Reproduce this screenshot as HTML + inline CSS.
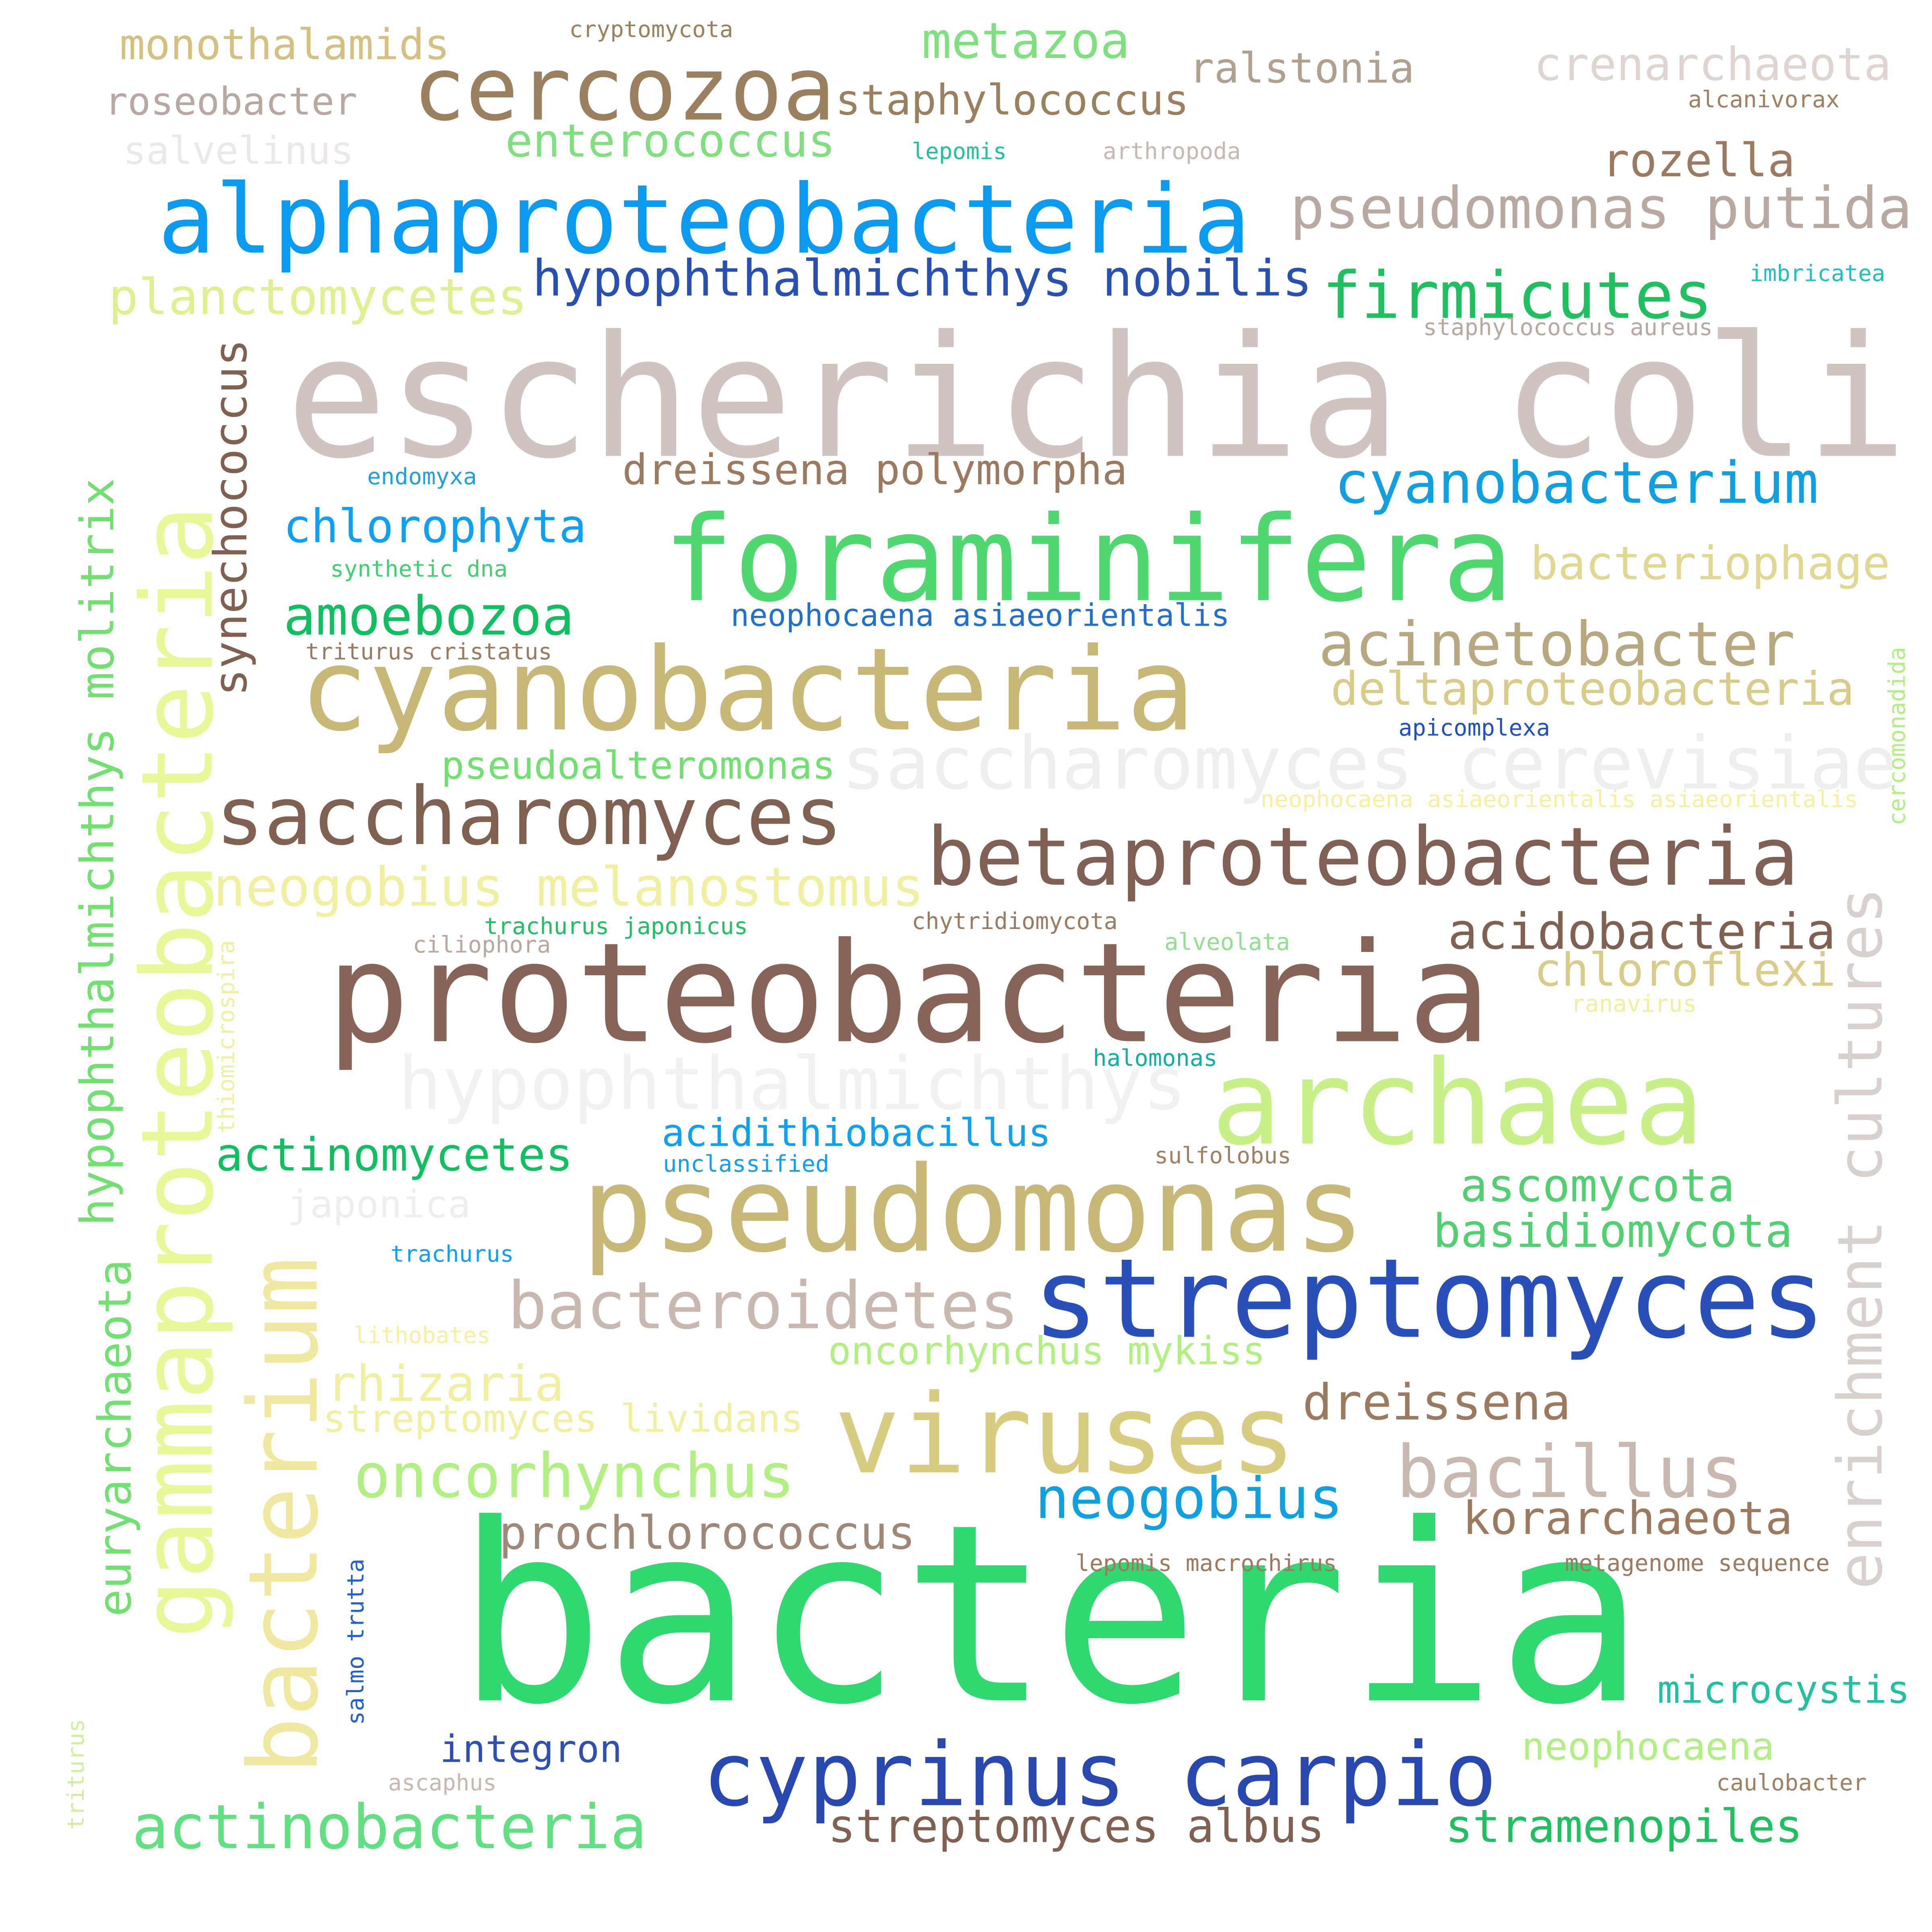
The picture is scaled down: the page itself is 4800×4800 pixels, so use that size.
<!DOCTYPE html>
<html><head><meta charset="utf-8"><style>
html,body{margin:0;padding:0;background:#fff;}
svg{display:block;}
text{font-family:"DejaVu Sans Mono","Liberation Mono",monospace;}
</style></head><body>
<svg id="cloud" width="4800" height="4800" viewBox="0 0 1568 1568" xmlns="http://www.w3.org/2000/svg">
<rect width="1568" height="1568" fill="#ffffff"/>
</svg>
<script>
// word, x-left, baseline, right/length, color, vertical(1)
const words = ["escherichia coli","bacteria","proteobacteria","alphaproteobacteria","foraminifera","cyanobacteria","pseudomonas","streptomyces","viruses","archaea","cyprinus carpio","cercozoa","monothalamids","cryptomycota","metazoa","ralstonia","crenarchaeota","alcanivorax","roseobacter","staphylococcus","salvelinus","enterococcus","lepomis","arthropoda","rozella","pseudomonas putida","hypophthalmichthys nobilis","firmicutes","imbricatea","planctomycetes","staphylococcus aureus","dreissena polymorpha","endomyxa","cyanobacterium","chlorophyta","synthetic dna","bacteriophage","amoebozoa","neophocaena asiaeorientalis","triturus cristatus","acinetobacter","deltaproteobacteria","apicomplexa","saccharomyces cerevisiae","pseudoalteromonas","neophocaena asiaeorientalis asiaeorientalis","saccharomyces","betaproteobacteria","neogobius melanostomus","trachurus japonicus","chytridiomycota","acidobacteria","ciliophora","alveolata","chloroflexi","ranavirus","halomonas","hypophthalmichthys","acidithiobacillus","actinomycetes","unclassified","sulfolobus","japonica","ascomycota","basidiomycota","trachurus","bacteroidetes","lithobates","oncorhynchus mykiss","rhizaria","dreissena","streptomyces lividans","oncorhynchus","bacillus","neogobius","korarchaeota","prochlorococcus","lepomis macrochirus","metagenome sequence","microcystis","integron","neophocaena","ascaphus","caulobacter","actinobacteria","streptomyces albus","stramenopiles",
"gammaproteobacteria","bacterium","hypophthalmichthys molitrix","synechococcus","enrichment cultures","euryarchaeota","thiomicrospira","salmo trutta","triturus","cercomonadida"];
const xs = [232,370,265,128,538,243,472,838,677,983,570,335,97,462,748,965,1245,1370,85,678,100,410,740,895,1300,1047,432,1073,1420,88,1155,505,298,1083,230,268,1242,230,593,248,1070,1080,1135,683,358,1023,175,752,173,393,740,1175,335,945,1245,1275,887,323,537,175,538,937,233,1185,1163,317,412,287,672,265,1057,262,287,1133,840,1187,405,873,1270,1345,357,1235,315,1393,107,672,1173,
172,257,92,200,1527,106,190,295,68,1546];
const ys = [370,1380,845,205,487,592,1015,1085,1195,928,1465,97,48,30,47,67,65,87,93,93,133,127,129,129,143,185,240,258,228,255,272,393,393,408,440,468,470,515,508,535,540,572,597,640,632,655,685,718,735,758,754,770,773,771,800,821,865,900,930,950,951,944,988,975,1012,1024,1078,1090,1107,1137,1152,1162,1215,1215,1232,1245,1257,1275,1275,1382,1430,1428,1453,1453,1500,1495,1495,
1330,1440,995,565,1290,1312,920,1400,1485,670];
const lens = [1316,965,945,887,690,727,636,644,375,400,645,343,268,133,169,183,290,123,205,287,187,268,77,112,157,505,633,317,110,340,235,410,89,393,246,144,292,236,405,200,387,425,123,857,320,485,509,708,577,214,167,315,112,102,245,102,101,640,316,290,135,111,149,223,292,100,415,111,355,193,218,390,358,282,250,268,338,212,215,205,148,205,88,122,418,403,290,
920,420,607,290,570,290,157,135,90,145];
const colors = ["#d0c4c0","#30d870","#886458","#0a9af0","#50d870","#c8b878","#c8b878","#2850b8","#d8cc80","#c8f088","#2848b0","#9b8060","#d4c080","#9b8060","#7ee07e","#b0a090","#e0d4d0","#a08060","#b8a8a0","#9b8060","#ede8e8","#80e080","#20c0a0","#c8b8b0","#9b7a60","#b8a8a0","#2850b0","#20c060","#20c0c0","#e0f090","#b8a8a0","#9b7a60","#20a0e0","#10a0e0","#10a0f0","#40d070","#e0d890","#10c060","#2070d0","#9b7a60","#b8a880","#d8cc88","#2050c0","#f0eded","#70e070","#f8f0a0","#806050","#806055","#f0f0a0","#20c060","#9b7a60","#806050","#b8a8a0","#90e090","#d8cc88","#f0f0a0","#10b0a0","#f3f0f0","#10a0f0","#10c060","#10a0f0","#a08060","#f0eded","#50d070","#50d070","#10a0f0","#c8b8b0","#f8f0a0","#b0f080","#f0f0a0","#9b7a60","#f0f0a0","#b0f080","#c8b8b0","#10a0e0","#9b7a60","#a08878","#9b7a60","#9b7a60","#20c0a0","#3050b0","#b0f080","#c8b8b0","#a08060","#60e080","#806050","#20c060",
"#e8f898","#f0e8a0","#70e070","#806050","#d8d0cc","#70e070","#f0f0a0","#2060d0","#d0f0a0","#b0f080"];
const NS = "http://www.w3.org/2000/svg";
const svg = document.getElementById("cloud");
const nHoriz = 87;
for (let i = 0; i < words.length; i++) {
  const w = words[i];
  const fs = lens[i] / (0.602 * w.length);
  const t = document.createElementNS(NS, "text");
  
  
  t.setAttribute("x", 0);
  t.setAttribute("y", 0);
  t.setAttribute("font-size", fs.toFixed(2));
  t.setAttribute("fill", colors[i]);
  t.setAttribute("textLength", lens[i]);
  t.setAttribute("lengthAdjust", "spacingAndGlyphs");
  if (i < nHoriz) {
    t.setAttribute("transform", "translate(" + xs[i] + "," + ys[i] + ")");
  } else {
    t.setAttribute("transform", "translate(" + xs[i] + "," + ys[i] + ") rotate(-90)");
  }
  t.textContent = w;
  svg.appendChild(t);
}
</script>
</body></html>
